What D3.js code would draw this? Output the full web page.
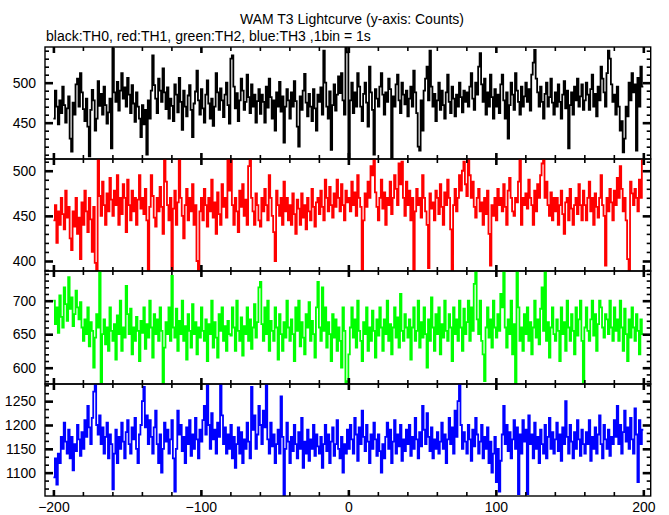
<!DOCTYPE html>
<html><head><meta charset="utf-8">
<script src="https://cdn.jsdelivr.net/npm/d3@7"></script>
<style>body{margin:0;background:#fff}svg{display:block}text{font-family:"Liberation Sans",Arial,sans-serif}</style>
</head><body><svg id="c" width="669" height="515"></svg>
<script>
const titleText = "WAM T3 Lightcurve (y-axis: Counts)";
const subtitleText = "black:TH0, red:TH1, green:TH2, blue:TH3 ,1bin = 1s";
const startTime = -200;
const xMajorTicks = [-200, -100, 0, 100, 200];
const seriesNames = ["TH0", "TH1", "TH2", "TH3"];
const seriesColors = ["#000000", "#ff0000", "#00ff00", "#0000ff"];
const yMajorTicks = [[450, 500], [400, 450, 500], [600, 650, 700], [1100, 1150, 1200, 1250]];

const th0 = [
455,490,470,448,478,462,495,472,450,468,483,430,414,475,460,498,505,470,512,488,
467,452,480,445,408,466,491,478,440,455,502,471,486,460,495,472,449,463,480,418,
543,488,476,501,465,490,512,480,494,470,506,485,462,497,474,451,488,470,455,432,
472,448,466,410,478,455,490,534,497,480,462,505,490,476,518,488,467,494,455,480,
471,452,498,485,463,506,476,441,490,470,458,484,497,466,432,474,489,515,478,460,
492,468,450,485,503,474,455,480,446,470,512,488,466,493,478,457,485,500,472,449,
530,534,495,468,487,452,478,505,490,466,476,510,482,462,498,470,485,450,477,492,
461,485,476,450,495,469,505,482,455,478,440,488,470,501,464,483,425,470,492,478,
455,488,470,502,477,445,420,483,466,490,511,475,458,486,470,452,492,468,440,485,
476,494,460,540,500,470,455,489,416,472,498,465,485,508,487,512,478,460,545,538,
405,478,500,462,488,470,512,495,470,452,486,500,475,445,520,488,466,410,492,480,
470,495,512,485,460,488,476,505,492,405,483,470,498,510,478,462,500,485,473,490,
458,480,495,470,515,488,462,420,415,478,440,490,505,520,478,540,495,470,486,452,
478,500,466,490,472,455,488,510,476,462,495,480,458,485,470,500,482,463,490,476,
488,470,495,512,480,466,500,485,520,537,498,476,505,460,488,470,510,482,455,492,
470,485,462,498,510,478,455,488,430,472,500,485,466,512,490,476,460,495,470,483,
500,476,492,465,510,525,541,505,488,470,495,476,455,486,500,470,482,505,475,460,
488,470,498,476,455,485,502,468,490,418,472,488,460,495,478,505,470,483,498,466,
478,500,485,466,492,510,470,486,458,495,478,520,505,488,470,512,540,530,498,476,
485,460,495,470,440,452,413,430,470,458,500,478,512,488,498,415,506,470,520,495];

const th1 = [
445,462,420,455,440,470,452,435,478,448,460,425,412,455,438,470,430,448,402,465,
440,478,455,432,470,446,410,460,398,388,513,472,450,488,462,440,475,455,492,468,
450,478,462,495,440,470,452,485,470,432,490,462,445,478,455,470,440,468,495,458,
470,452,480,445,389,460,495,472,448,438,470,455,482,460,430,513,488,462,445,470,
390,458,478,440,465,513,470,450,425,462,480,445,470,455,485,440,462,400,390,455,
470,445,480,462,438,470,455,490,448,465,430,476,452,440,485,460,470,448,513,478,
513,462,440,470,455,432,478,460,485,450,468,440,505,513,470,455,440,475,462,445,
438,470,455,480,462,445,495,470,450,432,400,478,462,450,470,440,488,455,470,445,
462,440,475,452,430,468,458,440,475,448,462,435,470,455,445,480,460,438,465,470,
452,478,460,445,490,470,455,482,462,448,475,460,490,470,455,485,462,445,478,465,
470,455,488,462,476,450,495,470,460,390,445,475,460,488,470,505,495,513,476,460,
445,470,490,458,476,440,470,462,488,452,470,495,480,462,508,485,510,470,450,488,
462,478,445,470,390,455,480,462,470,448,495,470,455,440,392,475,458,465,445,478,
470,452,485,460,440,476,462,490,470,435,390,462,480,455,470,495,478,500,510,485,
472,513,495,470,488,460,448,470,480,455,465,440,470,452,478,430,395,462,450,470,
445,480,462,470,455,485,460,440,478,492,470,455,450,470,465,488,513,440,470,462,
475,458,490,470,462,440,478,455,485,470,495,508,513,470,488,462,450,476,445,470,
455,470,440,462,478,452,430,465,470,445,480,458,440,462,470,452,485,462,445,478,
462,445,470,488,455,470,440,475,460,448,470,495,462,450,395,470,455,480,465,445,
478,462,492,470,505,480,455,470,445,402,390,488,475,462,480,470,455,490,470,513];

const th2 = [
700,665,690,652,708,676,660,720,695,670,735,688,705,662,680,715,690,672,698,660,
640,672,650,690,632,668,655,600,645,680,660,743,578,650,672,635,660,625,690,655,
640,665,612,678,650,700,625,660,645,722,680,650,688,620,660,640,676,655,610,670,
652,690,628,665,645,700,660,615,680,650,672,640,690,655,577,630,668,650,690,640,
737,660,645,688,625,670,650,700,640,662,612,680,655,630,695,650,668,620,660,645,
690,655,640,672,610,665,650,700,630,668,645,615,680,655,690,640,662,625,670,650,
648,690,660,625,700,655,640,675,618,662,650,690,640,672,628,660,695,645,668,720,
728,665,640,690,650,700,625,670,655,640,690,660,612,680,650,625,668,645,700,660,
640,672,650,610,690,655,700,632,668,645,620,680,660,698,640,670,650,615,690,728,
660,640,720,655,690,630,668,650,610,680,645,672,625,660,640,600,690,655,575,580,
620,660,690,645,672,630,700,655,640,610,668,650,690,625,660,640,685,655,615,672,
648,690,660,625,672,650,700,640,665,620,660,690,645,675,630,710,655,640,680,660,
645,672,612,660,690,640,655,700,630,668,645,690,650,600,672,640,705,660,625,680,
650,690,620,665,645,700,655,640,680,660,610,690,650,672,640,700,660,625,688,650,
668,700,640,690,655,725,744,672,650,700,640,620,580,660,690,645,672,630,700,660,
645,680,655,710,690,744,660,630,672,650,700,620,665,575,744,690,640,660,625,680,
650,690,640,668,620,660,700,645,672,635,688,720,655,744,640,668,615,660,690,650,
640,672,655,610,690,650,668,625,700,660,640,680,655,620,690,648,672,700,640,578,
660,690,655,640,672,700,648,680,625,665,700,690,660,645,680,672,650,700,660,640,
690,655,672,640,700,660,625,688,650,610,672,645,690,660,640,680,655,620,672,650];

const th3 = [
1090,1130,1075,1140,1120,1175,1150,1205,1165,1140,1190,1130,1175,1105,1160,1145,1200,1170,1135,1185,
1150,1210,1175,1240,1195,1160,1215,1270,1285,1200,1180,1220,1160,1195,1140,1175,1205,1130,1180,1160,
1065,1140,1190,1120,1175,1150,1205,1165,1130,1185,1210,1160,1140,1195,1170,1215,1150,1120,1180,1200,
1250,1280,1195,1220,1160,1210,1175,1140,1195,1230,1160,1120,1180,1100,1150,1205,1165,1190,1140,1170,
1210,1130,1060,1150,1230,1180,1200,1145,1175,1120,1195,1160,1210,1135,1180,1150,1215,1170,1130,1190,
1165,1210,1240,1180,1286,1200,1150,1225,1170,1190,1140,1205,1175,1285,1220,1160,1195,1140,1180,1150,
1200,1130,1175,1110,1160,1195,1140,1185,1120,1170,1150,1205,1165,1130,1280,1190,1220,1150,1180,1240,
1200,1160,1230,1195,1285,1170,1140,1205,1155,1180,1120,1160,1190,1140,1260,1175,1050,1150,1205,1165,
1120,1175,1145,1200,1160,1130,1185,1150,1215,1110,1165,1140,1190,1125,1170,1150,1200,1135,1180,1155,
1140,1175,1110,1160,1200,1145,1180,1120,1165,1195,1135,1160,1210,1150,1130,1175,1100,1160,1140,1190,
1150,1200,1170,1140,1215,1180,1125,1195,1160,1230,1175,1145,1200,1165,1120,1180,1150,1205,1170,1135,
1180,1145,1100,1160,1130,1175,1205,1150,1190,1120,1165,1210,1140,1180,1155,1200,1125,1170,1145,1190,
1160,1200,1135,1175,1150,1215,1170,1130,1185,1155,1240,1190,1160,1225,1175,1145,1195,1130,1170,1150,
1185,1140,1165,1205,1150,1180,1120,1170,1215,1160,1195,1140,1230,1175,1250,1286,1200,1150,1185,1165,
1140,1200,1170,1125,1190,1155,1215,1180,1140,1165,1200,1130,1175,1150,1195,1120,1165,1100,1140,1175,
1080,1150,1060,1125,1180,1240,1160,1200,1145,1185,1130,1170,1210,1150,1195,1055,1180,1140,1210,1165,
1190,1055,1220,1160,1180,1130,1205,1150,1175,1120,1190,1160,1140,1200,1130,1175,1215,1150,1185,1140,
1170,1205,1145,1180,1125,1195,1160,1250,1175,1140,1200,1165,1130,1185,1150,1210,1170,1135,1190,1160,
1140,1185,1160,1210,1125,1175,1150,1195,1140,1180,1220,1160,1130,1200,1170,1150,1190,1135,1175,1160,
1210,1175,1240,1160,1200,1140,1185,1230,1165,1195,1150,1215,1170,1140,1235,1180,1080,1210,1160,1190];

const seriesValues = [th0, th1, th2, th3];

// ---- layout ----
const svg = d3.select("#c");
const L = 45, R = 650.7;
const tops = [47, 159, 271, 384], bots = [159, 271, 384, 496];
const yDomains = [[404.6, 544.6], [388.9, 513], [575.7, 744.3], [1051, 1286]];
const yMinorStep = [10, 10, 10, 50 / 3];
const x = d3.scaleLinear().domain([-205.7, 205]).range([L, R]);
const xMinor = d3.range(-200, 201, 20).filter(v => v % 100 !== 0);

svg.append("text").attr("x", 352).attr("y", 24).attr("text-anchor", "middle")
  .attr("font-size", 14).text(titleText);
svg.append("text").attr("x", 46).attr("y", 41)
  .attr("font-size", 14).text(subtitleText);

function styleTicks(g, w) {
  g.select(".domain").remove();
  g.selectAll(".tick line").attr("stroke", "#000").attr("stroke-width", w);
  g.selectAll(".tick text").attr("font-size", 14).attr("fill", "#000")
    .attr("font-family", '"Liberation Sans", Arial, sans-serif');
}

seriesValues.forEach((vals, p) => {
  const y = d3.scaleLinear().domain(yDomains[p]).range([bots[p], tops[p]]);
  const clipId = "clip" + p;
  svg.append("clipPath").attr("id", clipId).append("rect")
    .attr("x", L).attr("y", tops[p]).attr("width", R - L).attr("height", bots[p] - tops[p]);

  const pts = vals.map((v, i) => [startTime + i, v]);
  pts.push([startTime + vals.length, vals[vals.length - 1]]);
  const line = d3.line().x(d => x(d[0])).y(d => y(d[1])).curve(d3.curveStepAfter);
  svg.append("path").datum(pts).attr("clip-path", `url(#${clipId})`)
    .attr("fill", "none").attr("stroke", seriesColors[p]).attr("stroke-width", 1.8)
    .attr("d", line);

  const dom = yDomains[p];
  const st = yMinorStep[p];
  const base = yMajorTicks[p][0];
  const minors = [];
  for (let v = base - st * Math.floor((base - dom[0]) / st); v <= dom[1]; v += st) {
    if (!yMajorTicks[p].some(m => Math.abs(m - v) < 1e-6)) minors.push(v);
  }

  svg.append("g").attr("transform", `translate(${L},0)`)
    .call(d3.axisLeft(y).tickValues(yMajorTicks[p]).tickSize(-8).tickPadding(9).tickFormat(d3.format("d")))
    .call(g => styleTicks(g, 2.6));
  svg.append("g").attr("transform", `translate(${L},0)`)
    .call(d3.axisLeft(y).tickValues(minors).tickSize(-4).tickFormat(""))
    .call(g => styleTicks(g, 1.6));
  svg.append("g").attr("transform", `translate(${R},0)`)
    .call(d3.axisRight(y).tickValues(yMajorTicks[p]).tickSize(-8).tickFormat(""))
    .call(g => styleTicks(g, 2.6));
  svg.append("g").attr("transform", `translate(${R},0)`)
    .call(d3.axisRight(y).tickValues(minors).tickSize(-4).tickFormat(""))
    .call(g => styleTicks(g, 1.6));
  svg.append("g").attr("transform", `translate(0,${tops[p]})`)
    .call(d3.axisTop(x).tickValues(xMajorTicks).tickSize(-6).tickFormat(""))
    .call(g => styleTicks(g, 2.6));
  svg.append("g").attr("transform", `translate(0,${tops[p]})`)
    .call(d3.axisTop(x).tickValues(xMinor).tickSize(-4).tickFormat(""))
    .call(g => styleTicks(g, 1.6));
  const isLast = p === seriesValues.length - 1;
  svg.append("g").attr("transform", `translate(0,${bots[p]})`)
    .call(d3.axisBottom(x).tickValues(xMajorTicks).tickSize(-6).tickPadding(6)
      .tickFormat(isLast ? d3.format("d") : ""))
    .call(g => styleTicks(g, 2.6));
  svg.append("g").attr("transform", `translate(0,${bots[p]})`)
    .call(d3.axisBottom(x).tickValues(xMinor).tickSize(-4).tickFormat(""))
    .call(g => styleTicks(g, 1.6));

  svg.append("rect").attr("x", L).attr("y", tops[p]).attr("width", R - L)
    .attr("height", bots[p] - tops[p]).attr("fill", "none")
    .attr("stroke", "#000").attr("stroke-width", 1.4);
});
</script></body></html>
